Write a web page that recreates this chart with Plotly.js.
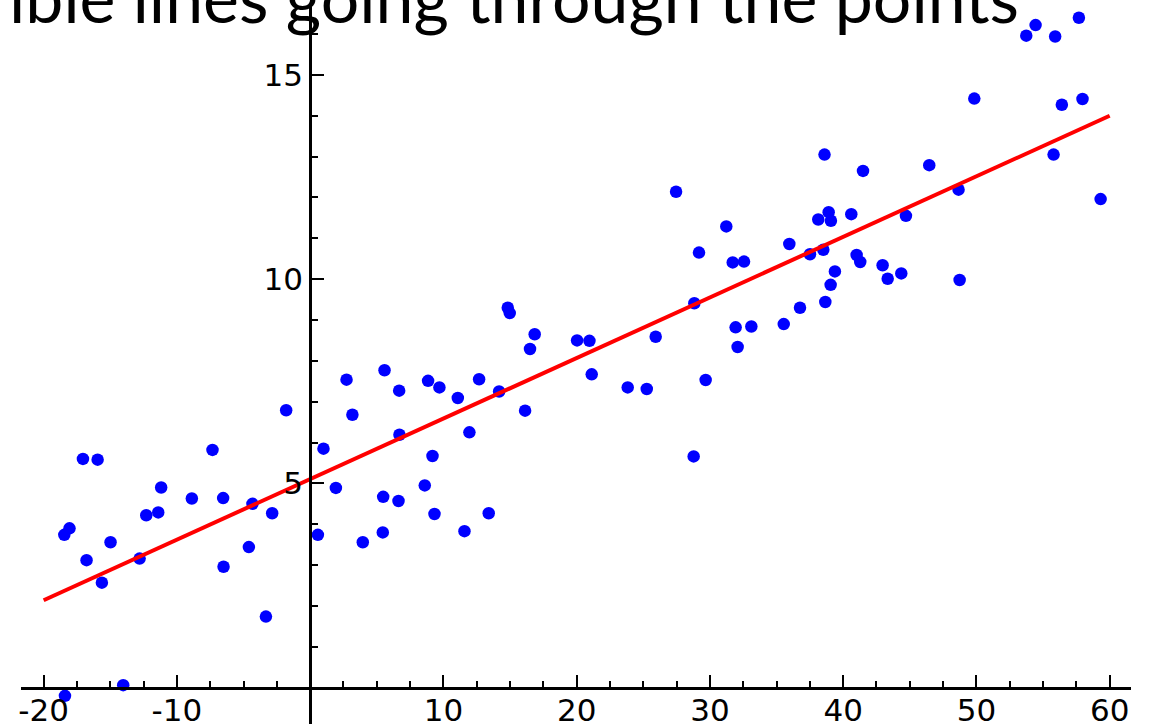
<!DOCTYPE html>
<html>
<head>
<meta charset="utf-8">
<script src="https://cdn.plot.ly/plotly-3.0.1.min.js"></script>
<style>html,body{margin:0;padding:0;background:#fff;}#chart{width:1151px;height:728px;}</style>
</head>
<body>
<div id="chart"></div>
<script>
// Scatter data
const pointsX = [
  -17.05, -15.95, -7.33, -11.18, -8.88, -6.53, -4.33, -2.85, -12.30, -11.40,
  -18.06, -18.45, -14.98, -16.78, -12.80, -4.60, -15.63, -6.50, -3.32, -1.80,
  -18.40, -14.03,
  1.00, 1.93, 0.58, 14.83, 14.98, 16.85, 16.50, 20.03, 20.96, 21.13, 23.83, 25.26,
  5.58, 2.73, 6.68, 8.85, 9.70, 12.68, 11.08, 14.18, 3.17, 16.13, 6.70, 11.95,
  9.18, 8.60, 5.48, 6.63, 9.33, 13.40, 3.95, 5.45, 11.58,
  38.60, 46.46, 41.49, 27.46, 31.23, 38.91, 38.13, 39.08, 40.61, 44.71,
  35.96, 29.18, 31.71, 32.56, 37.51, 38.51, 41.01, 41.28, 42.96, 43.34, 44.36,
  39.38, 39.06, 38.66, 36.76, 35.54, 31.93, 33.11, 32.08, 28.83, 25.93, 29.68, 28.78,
  57.69, 54.44, 53.74, 55.91, 49.84, 57.96, 56.41, 55.79, 59.32, 48.66, 48.74
];
const pointsY = [
  5.60, 5.58, 5.82, 4.90, 4.63, 4.64, 4.50, 4.27, 4.22, 4.29,
  3.90, 3.74, 3.56, 3.12, 3.16, 3.44, 2.57, 2.96, 1.74, 6.79,
  -0.20, 0.06,
  5.85, 4.89, 3.74, 9.30, 9.17, 8.65, 8.29, 8.50, 8.49, 7.67, 7.35, 7.31,
  7.77, 7.54, 7.27, 7.51, 7.35, 7.55, 7.09, 7.25, 6.68, 6.78, 6.19, 6.25,
  5.67, 4.95, 4.67, 4.57, 4.25, 4.27, 3.56, 3.80, 3.83,
  13.05, 12.79, 12.65, 12.14, 11.29, 11.64, 11.46, 11.43, 11.59, 11.55,
  10.86, 10.65, 10.41, 10.43, 10.61, 10.72, 10.59, 10.42, 10.34, 10.01, 10.14,
  10.19, 9.86, 9.44, 9.30, 8.90, 8.82, 8.84, 8.34, 9.41, 8.59, 7.53, 5.66,
  16.40, 16.22, 15.96, 15.94, 14.42, 14.41, 14.27, 13.05, 11.96, 12.19, 9.98
];
// Fitted line end points
const fitLineX = [-20, 60];
const fitLineY = [2.14, 14.0];
// Axis ticks
const xTickVals = [-20, -10, 10, 20, 30, 40, 50, 60];
const xTickText = ["-20", "-10", "10", "20", "30", "40", "50", "60"];
const yTickVals = [5, 10, 15];
const yTickText = ["5", "10", "15"];
const titleText = "ible lines going through the points";

const xRange = [-21.7, 61.6];
const yRange = [-0.89, 16.76];

const traces = [
  {
    x: pointsX, y: pointsY, type: 'scatter', mode: 'markers',
    marker: {color: '#0000ff', size: 12.5, line: {width: 0}},
    cliponaxis: false, hoverinfo: 'skip'
  },
  {
    x: fitLineX, y: fitLineY, type: 'scatter', mode: 'lines',
    line: {color: '#ff0000', width: 4}, hoverinfo: 'skip'
  }
];

const tickFont = {family: 'DejaVu Sans', size: 31, color: '#000'};

const layout = {
  width: 1151, height: 728,
  margin: {l: 21, r: 20, t: 3, b: 4, pad: 0},
  paper_bgcolor: '#fff', plot_bgcolor: '#fff',
  showlegend: false,
  xaxis: {
    range: xRange, anchor: 'free',
    position: (0 - yRange[0]) / (yRange[1] - yRange[0]),
    showgrid: false, zeroline: false,
    showline: true, linecolor: '#000', linewidth: 3,
    ticks: 'inside', ticklen: 12, tickwidth: 2, tickcolor: '#000',
    tickmode: 'array', tickvals: xTickVals, ticktext: xTickText,
    tickfont: tickFont, ticklabelstandoff: -6,
    minor: {tickmode: 'linear', tick0: 0, dtick: 2.5, ticks: 'inside', ticklen: 6, tickwidth: 2, tickcolor: '#000', showgrid: false}
  },
  yaxis: {
    range: yRange, anchor: 'free',
    position: (0 - xRange[0]) / (xRange[1] - xRange[0]),
    showgrid: false, zeroline: false,
    showline: true, linecolor: '#000', linewidth: 3,
    ticks: 'inside', ticklen: 12, tickwidth: 2, tickcolor: '#000',
    tickmode: 'array', tickvals: yTickVals, ticktext: yTickText,
    tickfont: tickFont,
    minor: {tickmode: 'linear', tick0: 0, dtick: 1, ticks: 'inside', ticklen: 6, tickwidth: 2, tickcolor: '#000', showgrid: false}
  },
  annotations: [{
    text: titleText, xref: 'paper', yref: 'paper',
    x: (1021 - 21) / (1151 - 41), xanchor: 'right',
    y: 1, yanchor: 'middle', yshift: 7,
    showarrow: false,
    font: {family: 'Lato', size: 68, color: '#000'}
  }]
};

Plotly.newPlot('chart', traces, layout, {staticPlot: true, displayModeBar: false});
</script>
</body>
</html>
